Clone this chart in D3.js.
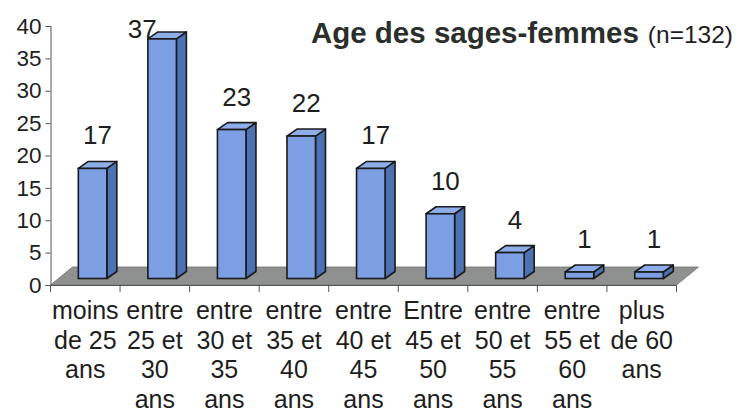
<!DOCTYPE html>
<html>
<head>
<meta charset="utf-8">
<script src="https://cdn.jsdelivr.net/npm/d3@7"></script>
<style>
  html, body { margin: 0; padding: 0; background: #ffffff; }
  svg { display: block; }
  text { font-family: "Liberation Sans", Arial, sans-serif; fill: #1e1e1e; }
</style>
</head>
<body>
<svg id="chart" width="737" height="416"></svg>
<script>
// ---- data ----
const categories = [
  ["moins", "de 25", "ans"],
  ["entre", "25 et", "30", "ans"],
  ["entre", "30 et", "35", "ans"],
  ["entre", "35 et", "40", "ans"],
  ["entre", "40 et", "45", "ans"],
  ["Entre", "45 et", "50", "ans"],
  ["entre", "50 et", "55", "ans"],
  ["entre", "55 et", "60", "ans"],
  ["plus", "de 60", "ans"]
];
const values = [17, 37, 23, 22, 17, 10, 4, 1, 1];
const yTicks = [0, 5, 10, 15, 20, 25, 30, 35, 40];
const titleMain = "Age des sages-femmes";
const titleSub = "(n=132)";

// ---- layout ----
const plot = { left: 50.5, right: 676.5, top: 26, bottom: 285 };
const floorDepth = { dx: 22, dy: -18 };
const barDepth = { dx: 10, dy: -7 };
const barOffset = { dx: 0, dy: -6.5 };

const svg = d3.select("#chart");
const ids = categories.map((c, i) => "c" + i);

const x = d3.scaleBand().domain(ids).range([plot.left, plot.right]).padding(0);
const y = d3.scaleLinear().domain([0, 40]).range([plot.bottom, plot.top]);

// floor
const fl = [
  [plot.left, plot.bottom],
  [plot.right, plot.bottom],
  [plot.right + floorDepth.dx, plot.bottom + floorDepth.dy],
  [plot.left + floorDepth.dx, plot.bottom + floorDepth.dy]
];
svg.append("path")
  .attr("d", d3.line()(fl) + "Z")
  .attr("fill", "#8f9190")
  .attr("stroke", "#6f706f")
  .attr("stroke-width", 0.8);

// y axis
const yAxis = d3.axisLeft(y).tickValues(yTicks).tickSize(5).tickPadding(4);
const gy = svg.append("g").attr("transform", `translate(${plot.left},0)`).call(yAxis);
gy.select(".domain").attr("stroke", "#555").attr("stroke-width", 1);
gy.selectAll(".tick line").attr("stroke", "#555");
gy.selectAll(".tick text")
  .attr("font-size", 22.5)
  .attr("font-family", "Liberation Sans, Arial, sans-serif")
  .attr("fill", "#1e1e1e");

// x axis
const xAxis = d3.axisBottom(x).tickSize(0).tickFormat("");
const gx = svg.append("g").attr("transform", `translate(0,${plot.bottom})`).call(xAxis);
gx.select(".domain").attr("stroke", "#555").attr("stroke-width", 1);
const bounds = ids.map(id => x(id)).concat([plot.right]);
svg.append("g").selectAll("line").data(bounds).join("line")
  .attr("x1", d => d).attr("x2", d => d)
  .attr("y1", plot.bottom).attr("y2", plot.bottom + 7)
  .attr("stroke", "#555").attr("stroke-width", 1);

// bars
const bw = x.bandwidth();
const frontW = bw * 0.41;
const bars = svg.append("g").selectAll("g").data(values).join("g");
bars.each(function (v, i) {
  const g = d3.select(this);
  const x0 = x(ids[i]) + bw * 0.40 + barOffset.dx;
  const x1 = x0 + frontW;
  const yb = y(0) + barOffset.dy;
  const yt = y(v) + barOffset.dy;
  const dx = barDepth.dx, dy = barDepth.dy;
  const stroke = "#1a1a1a";
  g.append("path")
    .attr("d", d3.line()([[x1, yb], [x1 + dx, yb + dy], [x1 + dx, yt + dy], [x1, yt]]) + "Z")
    .attr("fill", "#4d72b4").attr("stroke", stroke).attr("stroke-width", 1.6)
    .attr("stroke-linejoin", "round");
  g.append("path")
    .attr("d", d3.line()([[x0, yt], [x1, yt], [x1 + dx, yt + dy], [x0 + dx, yt + dy]]) + "Z")
    .attr("fill", "#8eaeea").attr("stroke", stroke).attr("stroke-width", 1.6)
    .attr("stroke-linejoin", "round");
  g.append("rect")
    .attr("x", x0).attr("y", yt).attr("width", frontW).attr("height", yb - yt)
    .attr("fill", "#7b9fe2").attr("stroke", stroke).attr("stroke-width", 1.6);

  let ly = yt + dy - 17;
  let lx = x0 + (frontW + dx) / 2;
  if (ly < 38) { ly = 38; lx -= 25; }
  g.append("text")
    .attr("x", lx).attr("y", ly)
    .attr("text-anchor", "middle")
    .attr("font-size", 26)
    .text(v);
});

// category labels
const labels = svg.append("g").selectAll("text").data(categories).join("text")
  .attr("text-anchor", "middle")
  .attr("font-size", 25)
  .attr("x", (d, i) => x(ids[i]) + bw / 2);
labels.each(function (lines) {
  const t = d3.select(this);
  lines.forEach((ln, k) => {
    t.append("tspan")
      .attr("x", t.attr("x"))
      .attr("y", 319 + k * 29.5)
      .text(ln);
  });
});

// title
const title = svg.append("text")
  .attr("x", 733).attr("y", 43)
  .attr("text-anchor", "end");
title.append("tspan")
  .attr("font-size", 29.5).attr("font-weight", "bold").attr("fill", "#2a2f2c")
  .text(titleMain);
title.append("tspan")
  .attr("font-size", 24.5).attr("dx", 9)
  .text(titleSub);
</script>
</body>
</html>
